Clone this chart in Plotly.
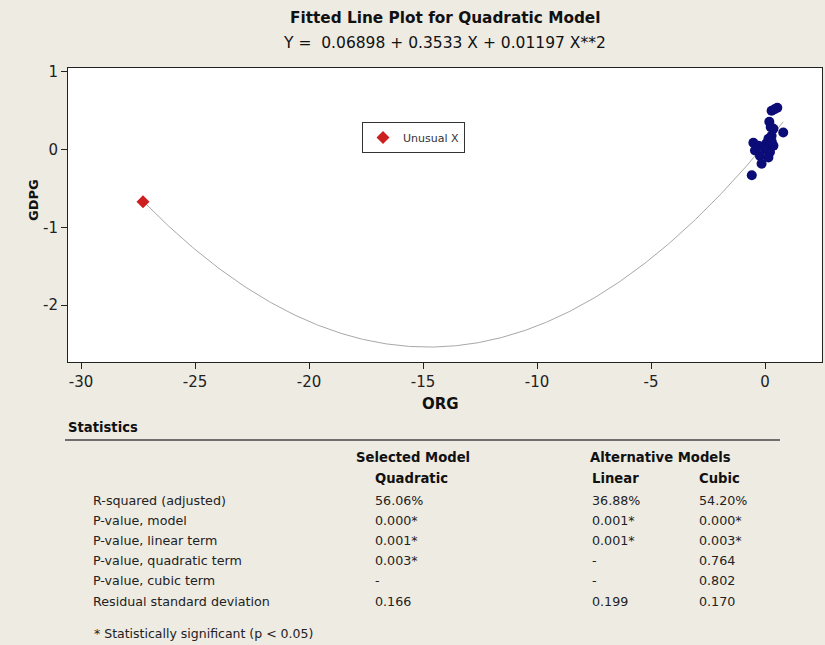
import numpy as np
import plotly.graph_objects as go

# ---- data ----
org = [0.29, 0.54, 0.42, 0.19, 0.25, 0.37, 0.80, 0.29, 0.15, -0.51, -0.29, 0.37,
       0.00, -0.44, 0.22, -0.22, 0.15, -0.15, -0.58, 0.05, 0.30, -0.05]
gdpg = [0.50, 0.54, 0.52, 0.36, 0.29, 0.27, 0.22, 0.18, 0.14, 0.09, 0.05, 0.05,
        0.01, -0.01, -0.03, -0.08, -0.10, -0.18, -0.33, 0.08, 0.10, 0.03]
unusual_org = [-27.28]
unusual_gdpg = [-0.67]
coef = [0.06898, 0.3533, 0.01197]  # b0, b1, b2

x_tickvals = [-30, -25, -20, -15, -10, -5, 0]
x_ticktext = ["-30", "-25", "-20", "-15", "-10", "-5", "0"]
y_tickvals = [-2, -1, 0, 1]
y_ticktext = ["-2", "-1", "0", "1"]

stat_rows = ["R-squared (adjusted)", "P-value, model", "P-value, linear term",
             "P-value, quadratic term", "P-value, cubic term", "Residual standard deviation"]
quadratic_vals = ["56.06%", "0.000*", "0.001*", "0.003*", "-", "0.166"]
linear_vals = ["36.88%", "0.001*", "0.001*", "-", "-", "0.199"]
cubic_vals = ["54.20%", "0.000*", "0.003*", "0.764", "0.802", "0.170"]

# fitted curve from the stated model
all_x = org + unusual_org
xs = np.linspace(min(all_x), max(all_x), 300)
ys = coef[0] + coef[1] * xs + coef[2] * xs ** 2

fig = go.Figure()
fig.add_trace(go.Scatter(x=xs, y=ys, mode="lines", line=dict(color="#A8A8A8", width=1),
                         showlegend=False, hoverinfo="skip"))
fig.add_trace(go.Scatter(x=org, y=gdpg, mode="markers",
                         marker=dict(color="#0C0C78", size=10, line=dict(width=0)),
                         showlegend=False))
fig.add_trace(go.Scatter(x=unusual_org, y=unusual_gdpg, mode="markers", name="Unusual X",
                         marker=dict(color="#CC2020", size=10, symbol="diamond",
                                     line=dict(width=0)),
                         showlegend=True))

L, R, T, B = 68, 822, 68, 362
W, H = 825, 645


def px(x):
    return (x - L) / (R - L)


def py(y):
    return (B - y) / (B - T)


FONT = "DejaVu Sans"
TS = 12.7   # table text size
HS = 13.2   # table header size
ann = []
ann.append(dict(x=px(445), y=py(18), text="<b>Fitted Line Plot for Quadratic Model</b>",
                font=dict(size=15.3, color="#111"), xanchor="center", yanchor="middle"))
ann.append(dict(x=px(444), y=py(43), text="Y =  0.06898 + 0.3533 X + 0.01197 X**2",
                font=dict(size=15.5, color="#111"), xanchor="center", yanchor="middle"))
ann.append(dict(x=px(440), y=py(404), text="<b>ORG</b>", font=dict(size=15, color="#111"),
                xanchor="center", yanchor="middle"))
ann.append(dict(x=px(33), y=py(200), text="<b>GDPG</b>", font=dict(size=13, color="#111"),
                xanchor="center", yanchor="middle", textangle=-90))
ann.append(dict(x=px(66), y=py(427), text="<b>Statistics</b>", font=dict(size=HS, color="#111"),
                xanchor="left", yanchor="middle"))
ann.append(dict(x=px(354), y=py(457), text="<b>Selected Model</b>", font=dict(size=HS, color="#111"),
                xanchor="left", yanchor="middle"))
ann.append(dict(x=px(373), y=py(478), text="<b>Quadratic</b>", font=dict(size=HS, color="#111"),
                xanchor="left", yanchor="middle"))
ann.append(dict(x=px(588), y=py(457), text="<b>Alternative Models</b>", font=dict(size=HS, color="#111"),
                xanchor="left", yanchor="middle"))
ann.append(dict(x=px(590), y=py(478), text="<b>Linear</b>", font=dict(size=HS, color="#111"),
                xanchor="left", yanchor="middle"))
ann.append(dict(x=px(697), y=py(478), text="<b>Cubic</b>", font=dict(size=HS, color="#111"),
                xanchor="left", yanchor="middle"))
row_y0, row_dy = 500, 20.2
for i, lab in enumerate(stat_rows):
    yy = py(row_y0 + i * row_dy)
    ann.append(dict(x=px(91), y=yy, text=lab, font=dict(size=TS, color="#222"),
                    xanchor="left", yanchor="middle"))
    ann.append(dict(x=px(373), y=yy, text=quadratic_vals[i], font=dict(size=TS, color="#222"),
                    xanchor="left", yanchor="middle"))
    ann.append(dict(x=px(590), y=yy, text=linear_vals[i], font=dict(size=TS, color="#222"),
                    xanchor="left", yanchor="middle"))
    ann.append(dict(x=px(697), y=yy, text=cubic_vals[i], font=dict(size=TS, color="#222"),
                    xanchor="left", yanchor="middle"))
ann.append(dict(x=px(92), y=py(633), text="* Statistically significant (p < 0.05)",
                font=dict(size=12.5, color="#222"), xanchor="left", yanchor="middle"))
for a in ann:
    a.update(xref="paper", yref="paper", showarrow=False)

fig.update_layout(
    width=W, height=H,
    margin=dict(l=L, r=W - R, t=T, b=H - B),
    paper_bgcolor="#EEEBE3", plot_bgcolor="white",
    font=dict(family=FONT, color="#222"),
    annotations=ann,
    shapes=[dict(type="line", xref="paper", yref="paper", x0=px(65), x1=px(780),
                 y0=py(440), y1=py(440), line=dict(color="#444", width=1.5))],
    legend=dict(x=px(362), y=py(122), xanchor="left", yanchor="top",
                bgcolor="white", bordercolor="#333", borderwidth=1,
                font=dict(size=11, color="#333"), itemwidth=30),
    xaxis=dict(range=[-30.57, 2.5], tickvals=x_tickvals, ticktext=x_ticktext,
               ticks="outside", ticklen=6, tickcolor="#222", showline=True, linecolor="#222",
               linewidth=1, mirror=True, showgrid=False, zeroline=False,
               tickfont=dict(size=15, color="#222")),
    yaxis=dict(range=[-2.73, 1.05], tickvals=y_tickvals, ticktext=y_ticktext,
               ticks="outside", ticklen=6, tickcolor="#222", showline=True, linecolor="#222",
               linewidth=1, mirror=True, showgrid=False, zeroline=False,
               tickfont=dict(size=15, color="#222")),
)

fig.write_html("out.html", config={"displayModeBar": False},
               post_script="document.body.style.margin='0';document.body.style.overflow='hidden';")
